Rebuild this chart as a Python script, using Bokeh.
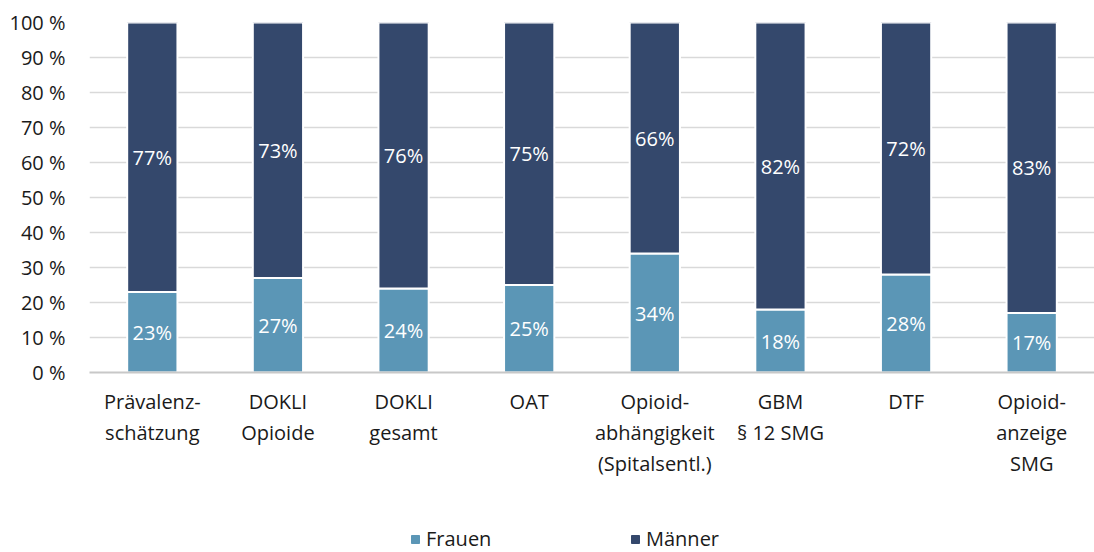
from bokeh.plotting import figure
from bokeh.layouts import column
from bokeh.models import (ColumnDataSource, Legend, LegendItem, LabelSet, FixedTicker,
                          CustomJSTickFormatter, Range1d, FactorRange)
from bokeh.core.properties import value
from bokeh.embed import file_html
from bokeh.resources import INLINE

categories = ["Prävalenz-\nschätzung", "DOKLI\nOpioide", "DOKLI\ngesamt", "OAT",
              "Opioid-\nabhängigkeit\n(Spitalsentl.)", "GBM\n§ 12 SMG", "DTF",
              "Opioid-\nanzeige\nSMG"]
frauen = [23, 27, 24, 25, 34, 18, 28, 17]
maenner = [77, 73, 76, 75, 66, 82, 72, 83]
series_names = ["Frauen", "Männer"]
colors = ["#5B96B6", "#34486C"]
y_ticks = [0, 10, 20, 30, 40, 50, 60, 70, 80, 90, 100]

FONT = "Open Sans"
TXT = "#1a1a1a"

src = ColumnDataSource(dict(
    cat=categories, Frauen=frauen, Männer=maenner,
    f_mid=[v / 2 for v in frauen],
    m_mid=[f + m / 2 for f, m in zip(frauen, maenner)],
    f_lab=[f"{v}%" for v in frauen],
    m_lab=[f"{v}%" for v in maenner],
))

p = figure(x_range=categories, y_range=(0, 100), width=1094, height=500,
           output_backend="svg", toolbar_location=None,
           min_border_left=89, min_border_right=0, min_border_top=22, min_border_bottom=128)
p.outline_line_color = None

rs = p.vbar_stack(series_names, x="cat", width=0.4, source=src, color=colors,
                  line_color="white", line_width=2)

for ycol, tcol in (("f_mid", "f_lab"), ("m_mid", "m_lab")):
    p.add_layout(LabelSet(x="cat", y=ycol, text=tcol, source=src, text_color="white",
                          text_font=value(FONT), text_font_size="20px",
                          text_align="center", text_baseline="middle"))

p.yaxis.ticker = FixedTicker(ticks=y_ticks)
p.yaxis.formatter = CustomJSTickFormatter(code="return tick + ' %';")
p.yaxis.axis_line_color = None
p.yaxis.major_tick_line_color = None
p.yaxis.minor_tick_line_color = None
p.yaxis.major_label_text_font = FONT
p.yaxis.major_label_text_font_size = "20px"
p.yaxis.major_label_text_color = TXT
p.yaxis.major_label_standoff = 18

p.xaxis.axis_line_color = "#C8C8C8"
p.xaxis.axis_line_width = 2
p.xaxis.major_tick_line_color = None
p.xaxis.minor_tick_line_color = None
p.xaxis.major_label_text_font = FONT
p.xaxis.major_label_text_font_size = "20px"
p.xaxis.major_label_text_color = TXT
p.xaxis.major_label_text_line_height = 1.15
p.xaxis.major_label_standoff = 9
p.xaxis.major_label_orientation = "horizontal"

p.xgrid.grid_line_color = None
p.ygrid.grid_line_color = "#D9D9D9"
p.ygrid.grid_line_width = 1.5
p.ygrid.ticker = FixedTicker(ticks=y_ticks)

# legend strip below the chart (its renderers are hidden; only the legend shows)
lg = figure(width=1094, height=52, output_backend="svg", toolbar_location=None,
            x_range=FactorRange(*categories), y_range=Range1d(0, 100), min_border=0)
lg.axis.visible = False
lg.grid.visible = False
lg.outline_line_color = None
lrs = lg.vbar_stack(series_names, x="cat", width=0.4, source=src, color=colors,
                    visible=False)
legend = Legend(items=[LegendItem(label=n, renderers=[r]) for n, r in zip(series_names, lrs)],
                orientation="horizontal", location=(321, 0),
                glyph_width=10, glyph_height=10, label_standoff=6, label_width=190, spacing=14,
                label_text_font=FONT, label_text_font_size="20px", label_text_color=TXT,
                border_line_color=None, background_fill_alpha=0, padding=0, margin=0)
lg.add_layout(legend, "center")

layout = column(p, lg, spacing=0)
open("out.html", "w").write(file_html(layout, INLINE))
